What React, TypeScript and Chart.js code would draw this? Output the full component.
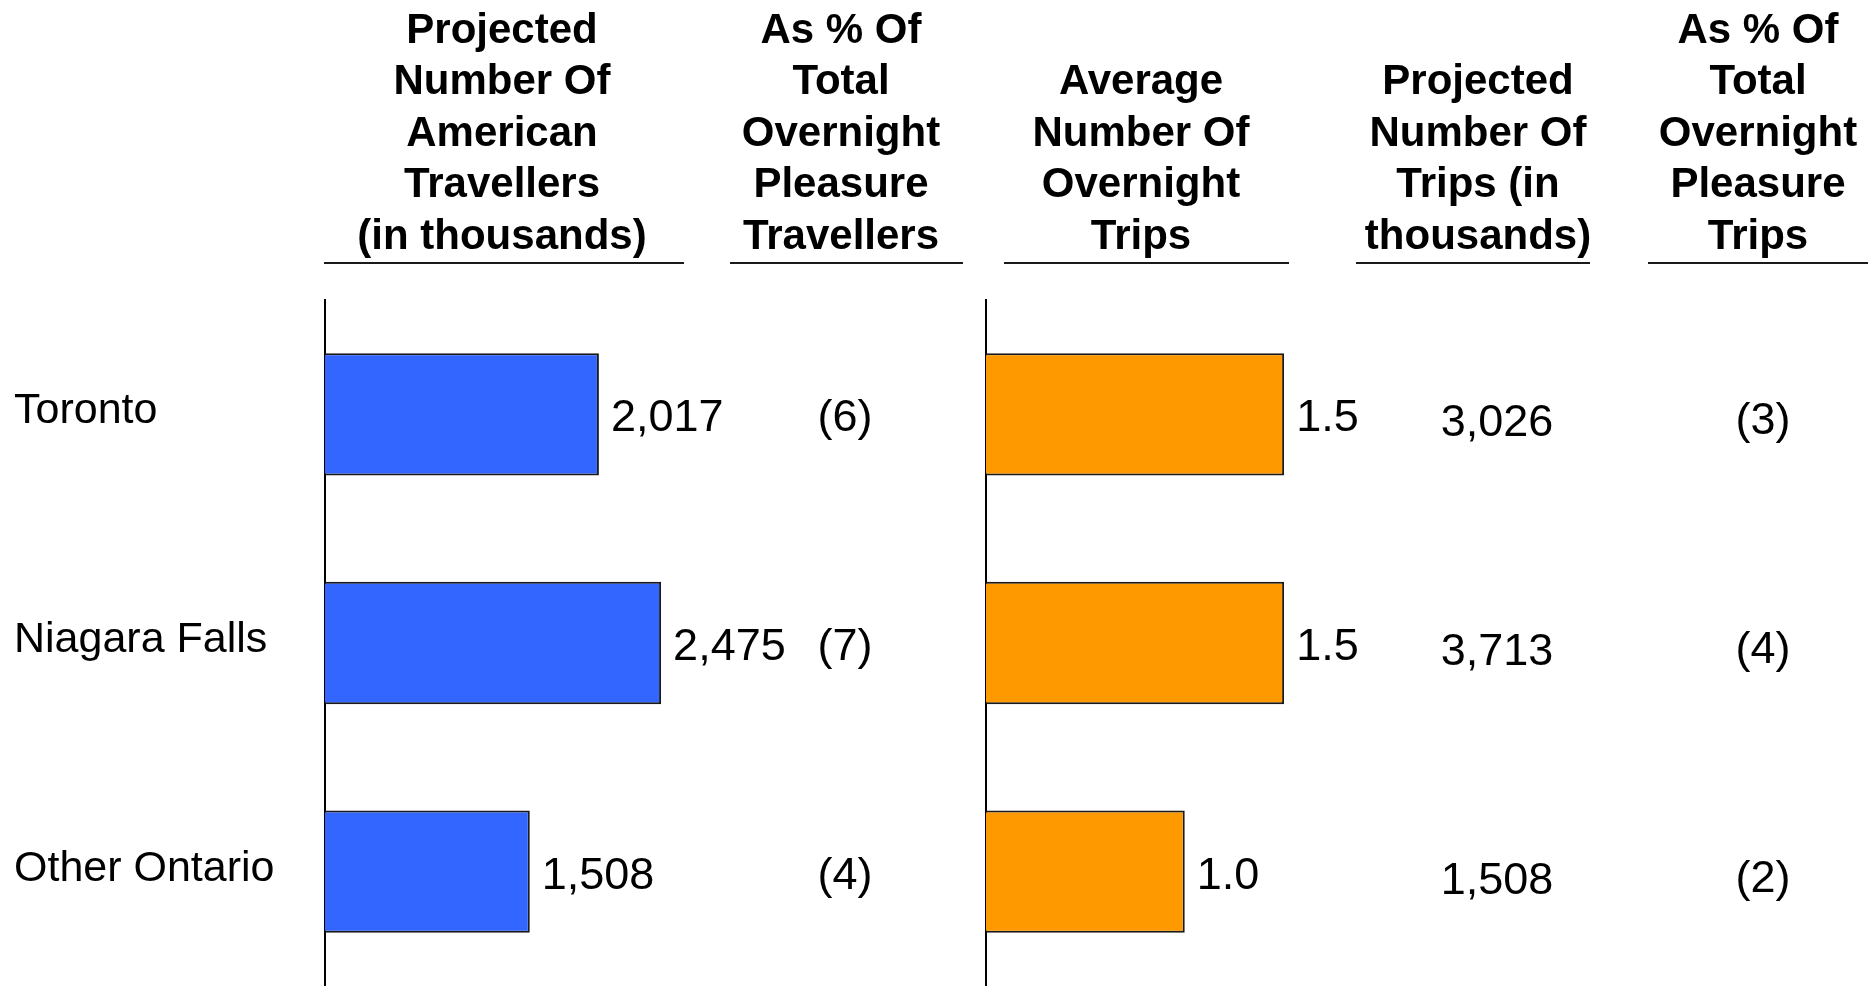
import React, { useEffect, useRef } from "react";
import { Chart, registerables } from "chart.js";

Chart.register(...registerables);

// ---- data ----
const categories = ["Toronto", "Niagara Falls", "Other Ontario"];
const travellers = [2017, 2475, 1508]; // thousands
const travellersPct = [6, 7, 4];
const avgTrips = [1.5, 1.5, 1.0];
const tripsThousands = [3026, 3713, 1508];
const tripsPct = [3, 4, 2];

const headerTravellers = ["Projected", "Number Of", "American", "Travellers", "(in thousands)"];
const headerTravellersPct = ["As % Of", "Total", "Overnight", "Pleasure", "Travellers"];
const headerAvgTrips = ["Average", "Number Of", "Overnight", "Trips"];
const headerTrips = ["Projected", "Number Of", "Trips (in", "thousands)"];
const headerTripsPct = ["As % Of", "Total", "Overnight", "Pleasure", "Trips"];

// ---- styling / layout ----
const W = 1868;
const H = 986;
const FONT = '"Liberation Sans", Arial, Helvetica, sans-serif';
const BLUE = "#3366FF";
const ORANGE = "#FF9900";
const BAR_BORDER = "#1a1a1a";

const fmtInt = (v: number) => v.toLocaleString("en-US");

function makeLabelPlugin(kind: "left" | "right") {
  return {
    id: "valueLabels_" + kind,
    afterDatasetsDraw(chart: any) {
      const ctx = chart.ctx as CanvasRenderingContext2D;
      const xs = chart.scales.x;
      const ys = chart.scales.y;
      ctx.save();
      ctx.fillStyle = "#000";
      ctx.font = `45px ${FONT}`;
      ctx.textBaseline = "alphabetic";
      categories.forEach((_, i) => {
        const yc = ys.getPixelForValue(i);
        if (kind === "left") {
          const v = travellers[i];
          ctx.textAlign = "left";
          ctx.fillText(fmtInt(v), xs.getPixelForValue(v) + 12, yc + 17);
          ctx.textAlign = "center";
          ctx.fillText(`(${travellersPct[i]})`, 845, yc + 17);
        } else {
          const v = avgTrips[i];
          ctx.textAlign = "left";
          ctx.fillText(v.toFixed(1), xs.getPixelForValue(v) + 12, yc + 17);
          ctx.textAlign = "center";
          ctx.fillText(fmtInt(tripsThousands[i]), 1497, yc + 22);
          ctx.fillText(`(${tripsPct[i]})`, 1763, yc + 20);
        }
      });
      ctx.restore();
    },
  };
}

function Header({ lines, cx }: { lines: string[]; cx: number }) {
  return (
    <div
      style={{
        position: "absolute",
        left: cx - 200,
        width: 400,
        bottom: H - 260.5,
        textAlign: "center",
        fontFamily: FONT,
        fontWeight: 700,
        fontSize: 42,
        lineHeight: "51.6px",
        color: "#000",
        whiteSpace: "nowrap",
      }}
    >
      {lines.map((l, i) => (
        <div key={i}>{l}</div>
      ))}
    </div>
  );
}

function Rule({ x1, x2 }: { x1: number; x2: number }) {
  return (
    <div
      style={{
        position: "absolute",
        left: x1,
        width: x2 - x1,
        top: 262,
        height: 2,
        background: "#1a1a1a",
      }}
    />
  );
}

export default function App() {
  const refA = useRef<HTMLCanvasElement | null>(null);
  const refB = useRef<HTMLCanvasElement | null>(null);

  useEffect(() => {
    const common = {
      indexAxis: "y" as const,
      responsive: false,
      animation: false as const,
      events: [] as any[],
      plugins: { legend: { display: false }, tooltip: { enabled: false } },
    };

    const zeroPad = (s: any) => {
      s.paddingTop = 0;
      s.paddingBottom = 0;
    };

    const chartA = new Chart(refA.current!, {
      type: "bar",
      data: {
        labels: categories,
        datasets: [
          {
            data: travellers,
            backgroundColor: BLUE,
            borderColor: BAR_BORDER,
            borderWidth: 2,
            barPercentage: 0.535,
            categoryPercentage: 1,
          },
        ],
      },
      options: {
        ...common,
        layout: {
          autoPadding: false,
          padding: { left: 14, top: 300, right: W - 1004, bottom: 0 },
        },
        scales: {
          x: { display: false, min: 0, max: 5000 },
          y: {
            grid: { display: false },
            border: { display: true, color: "#000", width: 2 },
            ticks: {
              crossAlign: "far",
              color: "#000",
              font: { family: FONT, size: 43 },
              labelOffset: -3,
            },
            afterFit: (s: any) => {
              s.width = 311;
              zeroPad(s);
            },
          },
        },
      } as any,
      plugins: [makeLabelPlugin("left")],
    });

    const chartB = new Chart(refB.current!, {
      type: "bar",
      data: {
        labels: categories,
        datasets: [
          {
            data: avgTrips,
            backgroundColor: ORANGE,
            borderColor: BAR_BORDER,
            borderWidth: 2,
            barPercentage: 0.535,
            categoryPercentage: 1,
          },
        ],
      },
      options: {
        ...common,
        layout: {
          autoPadding: false,
          padding: { left: 986, top: 300, right: W - 1781, bottom: 0 },
        },
        scales: {
          x: { display: false, min: 0, max: 4 },
          y: {
            grid: { display: false },
            border: { display: true, color: "#000", width: 2 },
            ticks: { display: false },
            afterFit: (s: any) => {
              s.width = 0;
              zeroPad(s);
            },
          },
        },
      } as any,
      plugins: [makeLabelPlugin("right")],
    });

    return () => {
      chartA.destroy();
      chartB.destroy();
    };
  }, []);

  return (
    <div
      style={{
        position: "absolute",
        left: 0,
        top: 0,
        width: W,
        height: H,
        background: "#fff",
        overflow: "hidden",
      }}
    >
      <canvas
        ref={refA}
        width={W}
        height={H}
        style={{ position: "absolute", left: 0, top: 0, width: W, height: H }}
      />
      <canvas
        ref={refB}
        width={W}
        height={H}
        style={{ position: "absolute", left: 0, top: 0, width: W, height: H }}
      />
      <Header lines={headerTravellers} cx={502} />
      <Header lines={headerTravellersPct} cx={841} />
      <Header lines={headerAvgTrips} cx={1141} />
      <Header lines={headerTrips} cx={1478} />
      <Header lines={headerTripsPct} cx={1758} />
      <Rule x1={324} x2={684} />
      <Rule x1={730} x2={963} />
      <Rule x1={1004} x2={1289} />
      <Rule x1={1356} x2={1590} />
      <Rule x1={1648} x2={W} />
    </div>
  );
}
